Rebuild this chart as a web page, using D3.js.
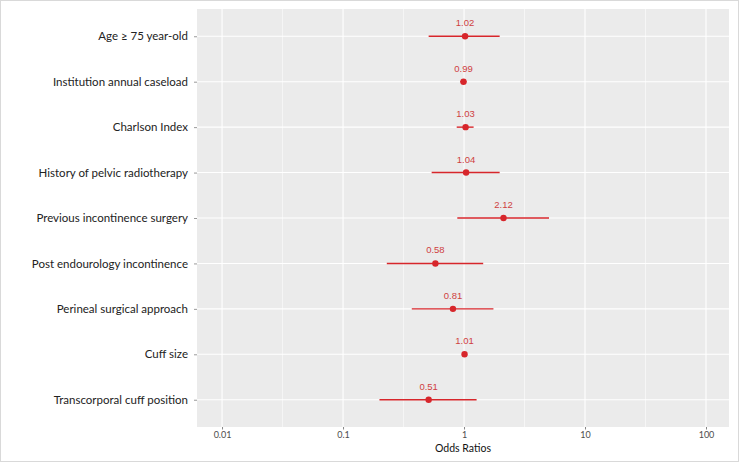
<!DOCTYPE html>
<html><head><meta charset="utf-8">
<script src="https://cdn.jsdelivr.net/npm/d3@7"></script>
<style>body{margin:0;background:#fff}svg{display:block}</style>
</head><body>
<svg id="c" width="739" height="462"></svg>
<script>
const categories = ["Age ≥ 75 year-old","Institution annual caseload","Charlson Index","History of pelvic radiotherapy","Previous incontinence surgery","Post endourology incontinence","Perineal surgical approach","Cuff size","Transcorporal cuff position"];
const oddsRatios = [1.02,0.99,1.03,1.04,2.12,0.58,0.81,1.01,0.51];
const ciLow = [0.51,0.93,0.87,0.54,0.88,0.23,0.37,0.995,0.20];
const ciHigh = [1.97,1.05,1.20,1.97,5.04,1.44,1.75,1.025,1.27];
const orLabels = ["1.02","0.99","1.03","1.04","2.12","0.58","0.81","1.01","0.51"];
const xTicks = [0.01,0.1,1,10,100];
const xTickLabels = ["0.01","0.1","1","10","100"];
const xMinor = [Math.pow(10,-1.5),Math.pow(10,-0.5),Math.pow(10,0.5),Math.pow(10,1.5)];

const svg = d3.select("#c");
const W=739,H=462;
svg.append("rect").attr("x",0.5).attr("y",0.5).attr("width",W-1).attr("height",H-1).attr("fill","#fff").attr("stroke","#d9d9d9");
const L=197,R=729,T=9,B=427;
const x = d3.scaleLog().domain([Math.pow(10,-2.207),Math.pow(10,2.19)]).range([L,R]);
const y = d3.scalePoint().domain(categories).range([T,B]).padding(0.6);
const red="#d7262b";

svg.append("rect").attr("x",L).attr("y",T).attr("width",R-L).attr("height",B-T).attr("fill","#ebebeb");
const g = svg.append("g");
g.selectAll(".mn").data(xMinor).enter().append("line")
 .attr("x1",d=>x(d)).attr("x2",d=>x(d)).attr("y1",T).attr("y2",B).attr("stroke","#fff").attr("stroke-width",0.55);
g.selectAll(".mj").data(xTicks).enter().append("line")
 .attr("x1",d=>x(d)).attr("x2",d=>x(d)).attr("y1",T).attr("y2",B).attr("stroke","#fff").attr("stroke-width",1.1);
g.selectAll(".hy").data(categories).enter().append("line")
 .attr("x1",L).attr("x2",R).attr("y1",d=>y(d)).attr("y2",d=>y(d)).attr("stroke","#fff").attr("stroke-width",1.1);

// x axis
const xa = svg.append("g").attr("transform",`translate(0,${B})`)
 .call(d3.axisBottom(x).tickValues(xTicks).tickFormat((d,i)=>xTickLabels[i]).tickSize(2.5).tickPadding(2.5));
xa.select(".domain").remove();
xa.selectAll("line").attr("stroke","#333").attr("stroke-width",0.6);
xa.selectAll("text").attr("fill","#4d4d4d").attr("font-size","9px").attr("font-family","Lato, 'Open Sans', sans-serif");

// y axis
const ya = svg.append("g").attr("transform",`translate(${L},0)`)
 .call(d3.axisLeft(y).tickSize(3).tickPadding(6));
ya.select(".domain").remove();
ya.selectAll("line").attr("stroke","#555").attr("stroke-width",0.6);
ya.selectAll("text").attr("fill","#222").attr("font-size","11.5px").attr("font-family","Lato, 'Open Sans', sans-serif");

svg.append("text").attr("x",(L+R)/2).attr("y",452).attr("text-anchor","middle")
 .attr("font-size","10.5px").attr("font-family","Lato, 'Open Sans', sans-serif").attr("fill","#111").text("Odds Ratios");

const data = categories.map((c,i)=>({c,or:oddsRatios[i],lo:ciLow[i],hi:ciHigh[i],lab:orLabels[i]}));
const m = svg.append("g");
m.selectAll(".ci").data(data).enter().append("line")
 .attr("x1",d=>x(d.lo)).attr("x2",d=>x(d.hi)).attr("y1",d=>y(d.c)).attr("y2",d=>y(d.c))
 .attr("stroke",red).attr("stroke-width",1.4);
m.selectAll(".pt").data(data).enter().append("circle")
 .attr("cx",d=>x(d.or)).attr("cy",d=>y(d.c)).attr("r",3.2).attr("fill",red);
m.selectAll(".lb").data(data).enter().append("text")
 .attr("x",d=>x(d.or)).attr("y",d=>y(d.c)-10).attr("text-anchor","middle")
 .attr("font-size","9.5px").attr("font-family","'Liberation Sans', Arial, sans-serif").attr("fill","#cf3f3f").text(d=>d.lab);
</script>
</body></html>
